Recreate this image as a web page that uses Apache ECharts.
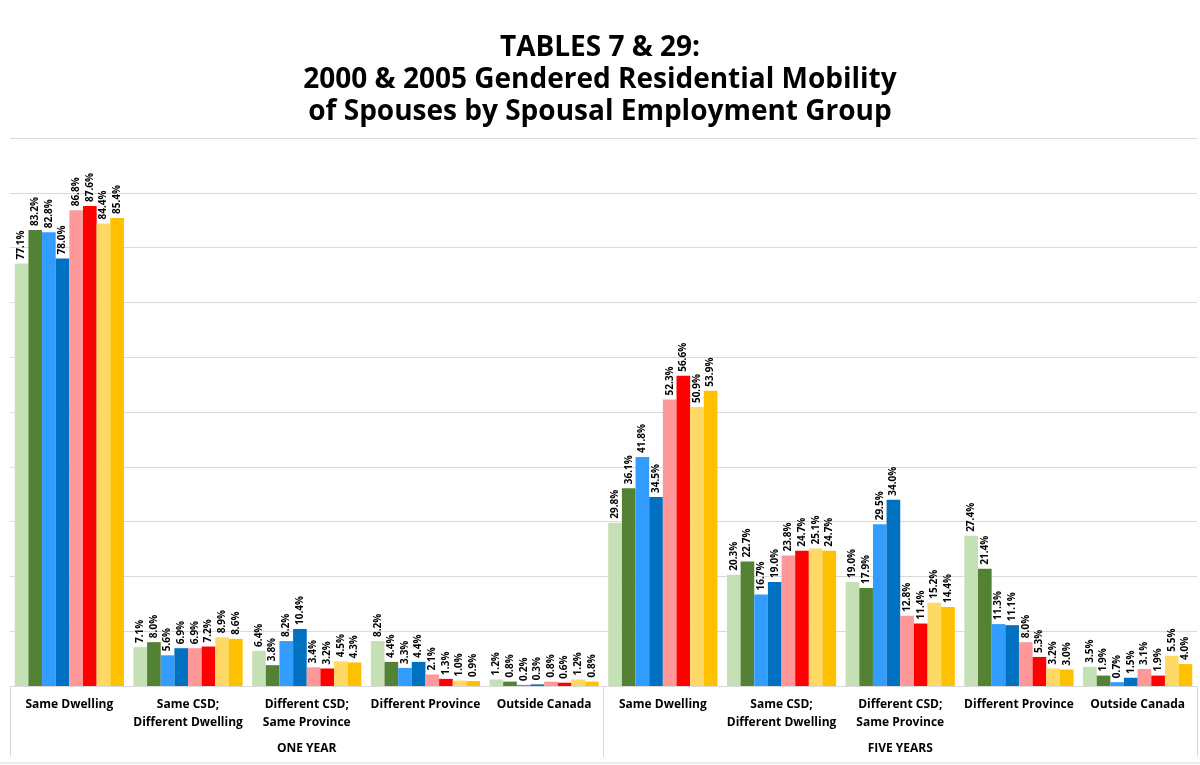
<!DOCTYPE html>
<html>
<head>
<meta charset="utf-8">
<script src="https://cdn.jsdelivr.net/npm/echarts@6/dist/echarts.min.js"></script>
<style>html,body{margin:0;padding:0;background:#fff}#c{width:1200px;height:765px}</style>
</head>
<body>
<div id="c"></div>
<script>
const categories = [
  'Same Dwelling', 'Same CSD;\nDifferent Dwelling', 'Different CSD;\nSame Province', 'Different Province', 'Outside Canada',
  'Same Dwelling', 'Same CSD;\nDifferent Dwelling', 'Different CSD;\nSame Province', 'Different Province', 'Outside Canada'
];
const groups = ['ONE YEAR', 'FIVE YEARS'];
const yTicks = [0, 10, 20, 30, 40, 50, 60, 70, 80, 90, 100];
const seriesNames = ['Series 1', 'Series 2', 'Series 3', 'Series 4', 'Series 5', 'Series 6', 'Series 7', 'Series 8'];
const s1 = [77.1, 7.1, 6.4, 8.2, 1.2, 29.8, 20.3, 19.0, 27.4, 3.5];
const s2 = [83.2, 8.0, 3.8, 4.4, 0.8, 36.1, 22.7, 17.9, 21.4, 1.9];
const s3 = [82.8, 5.6, 8.2, 3.3, 0.2, 41.8, 16.7, 29.5, 11.3, 0.7];
const s4 = [78.0, 6.9, 10.4, 4.4, 0.3, 34.5, 19.0, 34.0, 11.1, 1.5];
const s5 = [86.8, 6.9, 3.4, 2.1, 0.8, 52.3, 23.8, 12.8, 8.0, 3.1];
const s6 = [87.6, 7.2, 3.2, 1.3, 0.6, 56.6, 24.7, 11.4, 5.3, 1.9];
const s7 = [84.4, 8.9, 4.5, 1.0, 1.2, 50.9, 25.1, 15.2, 3.2, 5.5];
const s8 = [85.4, 8.6, 4.3, 0.9, 0.8, 53.9, 24.7, 14.4, 3.0, 4.0];
const colors = ['#C5E0B4', '#548235', '#339CFF', '#0070C0', '#FF9999', '#FF0000', '#FFD966', '#FFC000'];

const allSeries = [s1, s2, s3, s4, s5, s6, s7, s8];
const chart = echarts.init(document.getElementById('c'));
const FONT = 'Open Sans';
chart.setOption({
  animation: false,
  backgroundColor: '#fff',
  title: {
    text: 'TABLES 7 & 29:\n2000 & 2005 Gendered Residential Mobility\nof Spouses by Spousal Employment Group',
    left: 'center', top: 27,
    textStyle: { fontFamily: FONT, fontWeight: 'bold', fontSize: 28, lineHeight: 32, color: '#000' }
  },
  grid: { left: 10, right: 3, top: 138, bottom: 79 },
  xAxis: [
    {
      type: 'category', data: categories,
      axisLine: { lineStyle: { color: '#d9d9d9' } },
      axisTick: { show: false },
      axisLabel: { interval: 0, margin: 10, fontFamily: FONT, fontWeight: 'bold', fontSize: 12, lineHeight: 18, color: '#000' }
    },
    {
      type: 'category', data: groups, position: 'bottom',
      axisLine: { show: false },
      axisTick: { show: true, length: 71, lineStyle: { color: '#d9d9d9' } },
      axisLabel: { interval: 0, margin: 57, fontFamily: FONT, fontWeight: 'bold', fontSize: 12, color: '#000' }
    }
  ],
  yAxis: {
    type: 'value', min: yTicks[0], max: yTicks[yTicks.length - 1], interval: yTicks[1] - yTicks[0],
    axisLabel: { show: false }, axisLine: { show: false }, axisTick: { show: false },
    splitLine: { lineStyle: { color: '#d9d9d9' } }
  },
  series: allSeries.map((d, i) => ({
    name: seriesNames[i], type: 'bar', data: d, xAxisIndex: 0,
    barGap: '0%', barCategoryGap: '8%',
    itemStyle: { color: colors[i] },
    label: {
      show: true, position: 'top', rotate: 90, align: 'left', verticalAlign: 'middle', distance: 4,
      fontFamily: FONT, fontWeight: 'bold', fontSize: 10, color: '#000',
      formatter: p => p.value.toFixed(1) + '%'
    }
  })),
  graphic: [
    { type: 'line', shape: { x1: 0, y1: 763, x2: 1200, y2: 763 }, style: { stroke: '#d9d9d9', lineWidth: 1 } }
  ]
});
</script>
</body>
</html>
